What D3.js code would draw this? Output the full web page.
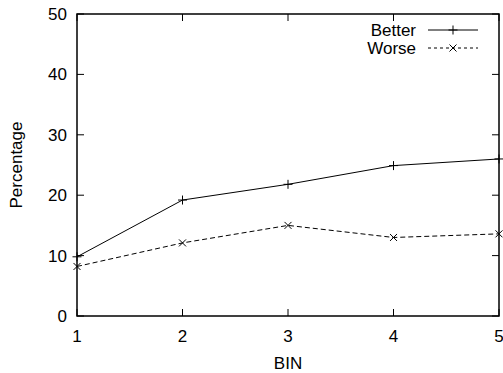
<!DOCTYPE html>
<html>
<head>
<meta charset="utf-8">
<script src="https://cdn.jsdelivr.net/npm/d3@7"></script>
<style>
  body { margin: 0; background: #fff; }
  text { font-family: "Liberation Sans", Arial, sans-serif; font-size: 17px; fill: #000; }
</style>
</head>
<body>
<div id="chart"></div>
<script>
var bins = [1, 2, 3, 4, 5];
var better = [9.8, 19.2, 21.8, 24.9, 26.0];
var worse = [8.2, 12.1, 15.0, 13.0, 13.6];
var yTicks = [0, 10, 20, 30, 40, 50];

var width = 503, height = 373,
    margin = {top: 14, right: 4, bottom: 57, left: 77},
    w = width - margin.left - margin.right,
    h = height - margin.top - margin.bottom;

var svg = d3.select("#chart").append("svg")
    .attr("width", width)
    .attr("height", height);

var g = svg.append("g")
    .attr("transform", "translate(" + margin.left + "," + margin.top + ")");

var x = d3.scaleLinear().domain([1, 5]).range([0, w]);
var y = d3.scaleLinear().domain([0, 50]).range([h, 0]);

// ticks (inward, mirrored on all four sides)
var tick = 7;
g.selectAll(".xt").data(bins).enter().append("path")
    .attr("d", function(d) {
      return "M" + x(d) + "," + h + "v" + (-tick) + "M" + x(d) + ",0v" + tick;
    })
    .attr("stroke", "#000").attr("stroke-width", 1);
g.selectAll(".yt").data(yTicks).enter().append("path")
    .attr("d", function(d) {
      return "M0," + y(d) + "h" + tick + "M" + w + "," + y(d) + "h" + (-tick);
    })
    .attr("stroke", "#000").attr("stroke-width", 1);

// tick labels
g.selectAll(".xl").data(bins).enter().append("text")
    .attr("x", function(d) { return x(d); })
    .attr("y", h + 26)
    .attr("text-anchor", "middle")
    .text(function(d) { return d; });
g.selectAll(".yl").data(yTicks).enter().append("text")
    .attr("x", -10)
    .attr("y", function(d) { return y(d); })
    .attr("dy", "0.35em")
    .attr("text-anchor", "end")
    .text(function(d) { return d; });

// axis titles
g.append("text")
    .attr("x", w / 2)
    .attr("y", h + 53)
    .attr("text-anchor", "middle")
    .text("BIN");
g.append("text")
    .attr("transform", "translate(" + (-55) + "," + (h / 2) + ")rotate(-90)")
    .attr("text-anchor", "middle")
    .text("Percentage");

// series
var line = d3.line()
    .x(function(d, i) { return x(bins[i]); })
    .y(function(d) { return y(d); });

function plus(px, py, s) {
  return "M" + (px - s) + "," + py + "h" + (2 * s) + "M" + px + "," + (py - s) + "v" + (2 * s);
}
function cross(px, py, s) {
  return "M" + (px - s) + "," + (py - s) + "l" + (2 * s) + "," + (2 * s) +
         "M" + (px - s) + "," + (py + s) + "l" + (2 * s) + "," + (-2 * s);
}

g.append("path").datum(better)
    .attr("d", line)
    .attr("fill", "none").attr("stroke", "#000").attr("stroke-width", 1);
g.selectAll(".pb").data(better).enter().append("path")
    .attr("d", function(d, i) { return plus(x(bins[i]), y(d), 4.5); })
    .attr("stroke", "#000").attr("stroke-width", 1);

g.append("path").datum(worse)
    .attr("d", line)
    .attr("fill", "none").attr("stroke", "#000").attr("stroke-width", 1)
    .attr("stroke-dasharray", "5,3");
g.selectAll(".pw").data(worse).enter().append("path")
    .attr("d", function(d, i) { return cross(x(bins[i]), y(d), 3.5); })
    .attr("stroke", "#000").attr("stroke-width", 1);

// frame
g.append("rect")
    .attr("width", w).attr("height", h)
    .attr("fill", "none").attr("stroke", "#000").attr("stroke-width", 1.5);

// legend
var legend = [
  {name: "Better", dash: null, mark: plus, s: 4.5},
  {name: "Worse", dash: "3,3", mark: cross, s: 3.5}
];
var lg = g.selectAll(".lg").data(legend).enter().append("g")
    .attr("transform", function(d, i) { return "translate(0," + (16 + i * 18) + ")"; });
lg.append("text")
    .attr("x", 339)
    .attr("dy", "0.35em")
    .attr("text-anchor", "end")
    .text(function(d) { return d.name; });
lg.append("path")
    .attr("d", "M351,0H401")
    .attr("stroke", "#000").attr("stroke-width", 1)
    .attr("stroke-dasharray", function(d) { return d.dash; });
lg.append("path")
    .attr("d", function(d) { return d.mark(376, 0, d.s); })
    .attr("stroke", "#000").attr("stroke-width", 1);
</script>
</body>
</html>
